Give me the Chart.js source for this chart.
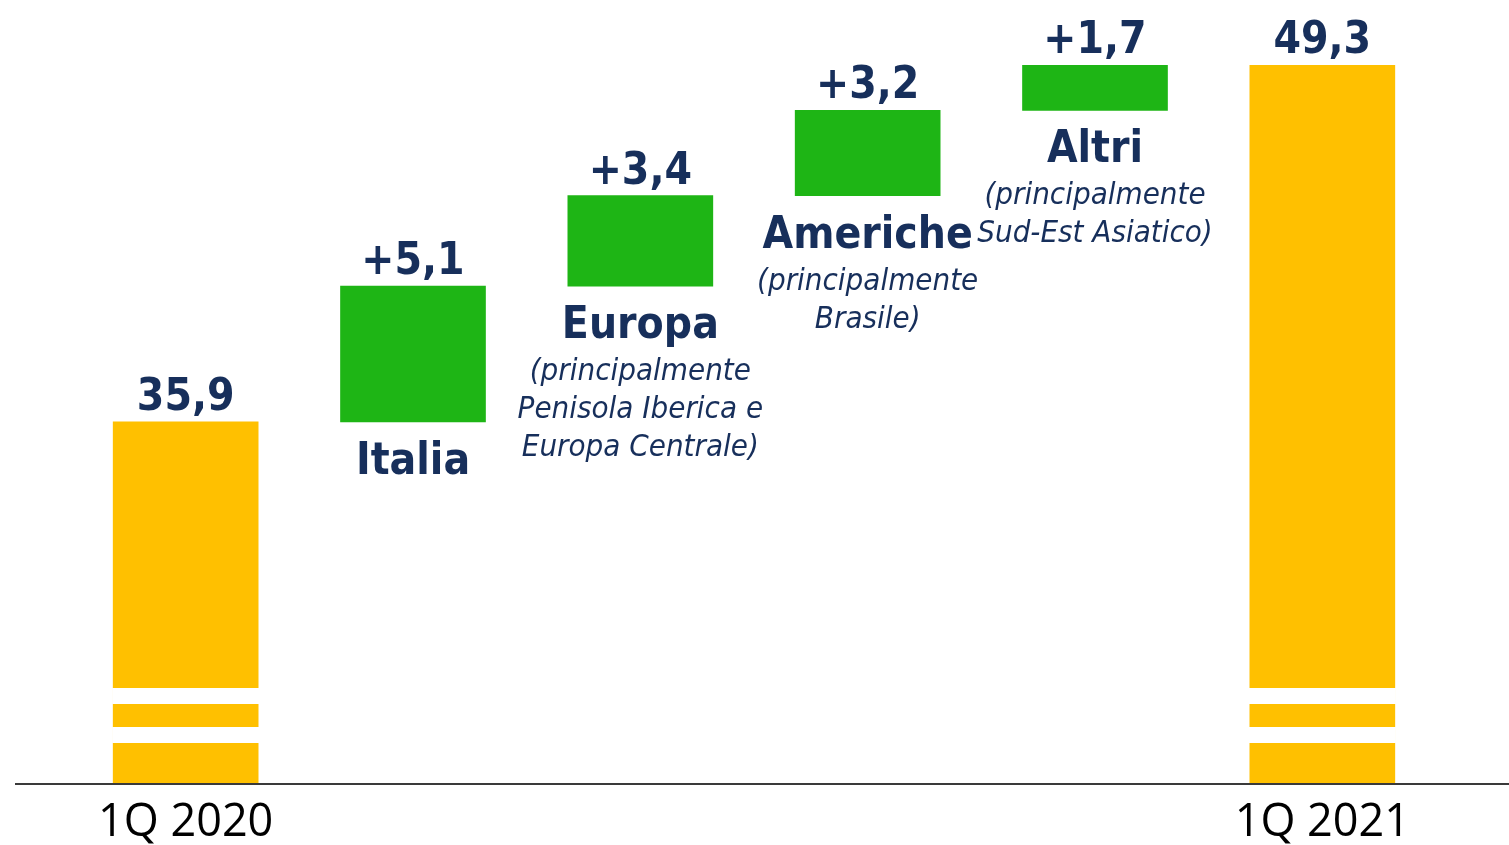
<!DOCTYPE html>
<html>
<head>
<meta charset="utf-8">
<title>1Q 2020 - 1Q 2021</title>
<script src="https://cdn.jsdelivr.net/npm/chart.js@4.4.1/dist/chart.umd.min.js"></script>
<style>
  html, body { margin: 0; padding: 0; background: #fff; }
  #wrap { position: relative; width: 1509px; height: 845px; }
</style>
</head>
<body>
<div id="wrap"><canvas id="chart"></canvas></div>
<script>
// categories and values
const categories = ['1Q 2020', 'Italia', 'Europa', 'Americhe', 'Altri', '1Q 2021'];
const totals = [35.9, null, null, null, null, 49.3];
const deltas = [null, 5.1, 3.4, 3.2, 1.7, null];
const details = [
    [],
    [],
    ['(principalmente', 'Penisola Iberica e', 'Europa Centrale)'],
    ['(principalmente', 'Brasile)'],
    ['(principalmente', 'Sud-Est Asiatico)'],
    []
];
// broken value axis: bottom of the plot is not zero
const axisMin = 22.33;
const axisMax = 51.75;

const NAVY = '#172F5B';
const YELLOW = '#FFC000';
const GREEN = '#1EB515';

// build the floating bars of the waterfall
let running = 0;
const barData = categories.map((c, i) => {
    if (totals[i] !== null) {
        running = totals[i];
        return [axisMin, totals[i]];
    }
    const start = running;
    running = +(running + deltas[i]).toFixed(1);
    return [start, running];
});
const barColors = categories.map((c, i) => totals[i] !== null ? YELLOW : GREEN);

function fmt(v, sign) {
    return (sign ? '+' : '') + v.toFixed(1).replace('.', ',');
}

// white bands that mark the axis break on the total bars (px above the base)
const breakBands = [[40, 56], [79, 95]];

const waterfallDecor = {
    id: 'waterfallDecor',
    afterDatasetsDraw(chart) {
        const ctx = chart.ctx;
        const meta = chart.getDatasetMeta(0);
        const yScale = chart.scales.y;
        const base = yScale.getPixelForValue(axisMin);
        ctx.save();

        // axis break bands
        meta.data.forEach((bar, i) => {
            if (totals[i] === null) return;
            const half = bar.width / 2;
            ctx.fillStyle = '#fff';
            breakBands.forEach(b => {
                ctx.fillRect(bar.x - half - 1, base - b[1], bar.width + 2, b[1] - b[0]);
            });
        });

        // baseline
        ctx.strokeStyle = '#3a3a3a';
        ctx.lineWidth = 2;
        ctx.beginPath();
        ctx.moveTo(15, base + 1);
        ctx.lineTo(chart.width, base + 1);
        ctx.stroke();

        ctx.textAlign = 'center';
        ctx.textBaseline = 'alphabetic';
        ctx.fillStyle = NAVY;
        meta.data.forEach((bar, i) => {
            const top = Math.min(bar.y, bar.base);
            const bottom = Math.max(bar.y, bar.base);
            // value above the bar
            ctx.font = 'bold 44px "DejaVu Sans Condensed", "DejaVu Sans", sans-serif';
            const txt = totals[i] !== null ? fmt(totals[i], false) : fmt(deltas[i], true);
            ctx.fillText(txt, bar.x, top - 12);
            if (totals[i] !== null) return;
            // category name and notes under the green bars
            const nameY = bottom + 52;
            ctx.fillText(categories[i], bar.x, nameY);
            ctx.font = 'oblique 31px "DejaVu Sans Condensed", "DejaVu Sans", sans-serif';
            details[i].forEach((line, k) => {
                ctx.fillText(line, bar.x, nameY + 42 + k * 38);
            });
        });
        ctx.restore();
    }
};

new Chart(document.getElementById('chart'), {
    type: 'bar',
    data: {
        labels: categories,
        datasets: [{
            data: barData,
            backgroundColor: barColors,
            borderWidth: 0,
            borderSkipped: false,
            barThickness: 145
        }]
    },
    options: {
        responsive: true,
        maintainAspectRatio: false,
        animation: false,
        layout: { padding: { left: 72, right: 73, top: 0, bottom: -18 } },
        plugins: {
            legend: { display: false },
            tooltip: { enabled: false }
        },
        scales: {
            x: {
                grid: { display: false, drawTicks: false },
                border: { display: false },
                ticks: {
                    padding: 13,
                    color: '#000',
                    font: { family: '"Open Sans", sans-serif', size: 45, lineHeight: 1.2 },
                    callback: (v, i) => totals[i] !== null ? categories[i] : ''
                }
            },
            y: {
                display: false,
                min: axisMin,
                max: axisMax
            }
        }
    },
    plugins: [waterfallDecor]
});
</script>
</body>
</html>
